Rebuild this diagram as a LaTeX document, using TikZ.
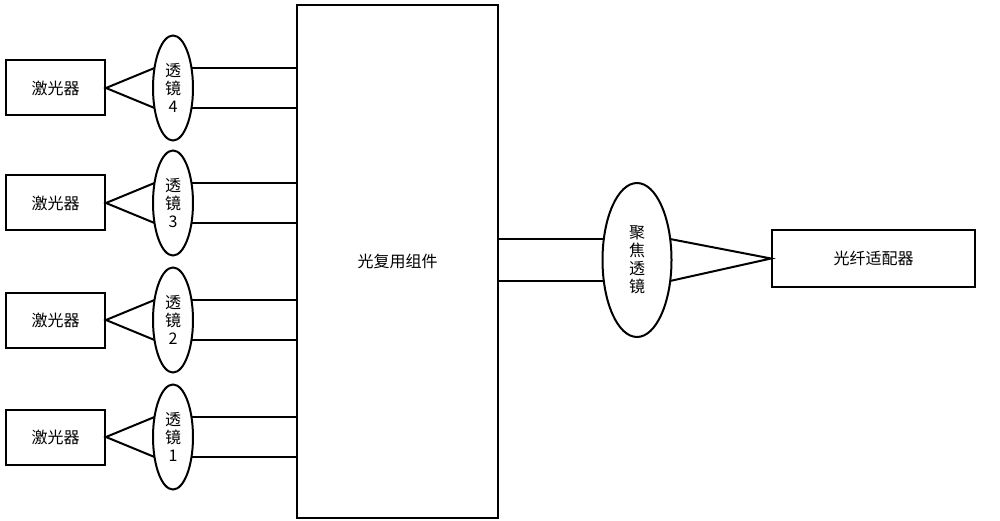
\documentclass[tikz,border=0pt]{standalone}
\usepackage{fontspec}
\newfontfamily\cjk{Noto Sans CJK SC}
\usetikzlibrary{shapes.geometric,calc}
\tikzset{box/.style={draw,line width=2pt,inner sep=0pt,font=\cjk\fontsize{16}{18}\selectfont},
lens/.style={draw,ellipse,line width=2pt,inner sep=0pt,align=center,font=\cjk\fontsize{16}{18}\selectfont},
beam/.style={line width=2pt}}
\begin{document}
\begin{tikzpicture}[x=1pt,y=-1pt]
\useasboundingbox (0,0) rectangle (1000,521);
\node[box,minimum width=201pt,minimum height=513pt] (mux) at (397.5,261.5) {光复用组件};
\foreach \n/\y in {4/88,3/203,2/320,1/437}{
 \node[box,minimum width=99pt,minimum height=55pt] (las\n) at (55.5,\y) {激光器};
 \node[lens,minimum width=40pt,minimum height=105pt] (len\n) at (173,\y) {透\\镜\\\n};
 \coordinate (lt\n) at ($(len\n.center)+(-18.5,-20)$);
 \coordinate (lb\n) at ($(len\n.center)+(-18.5,20)$);
 \coordinate (rt\n) at ($(len\n.center)+(18.5,-20)$);
 \coordinate (rb\n) at ($(len\n.center)+(18.5,20)$);
 \draw[beam] (lt\n) -- (las\n.east) -- (lb\n);
 \draw[beam] (rt\n) -- (rt\n -| mux.west);
 \draw[beam] (rb\n) -- (rb\n -| mux.west);
}
\node[lens,minimum width=69pt,minimum height=154pt] (foc) at (637,260) {聚\\焦\\透\\镜};
\node[box,minimum width=203pt,minimum height=57pt] (ad) at (873.5,258.5) {光纤适配器};
\coordinate (fl1) at ($(foc.center)+(-33,-21)$);
\coordinate (fl2) at ($(foc.center)+(-33,21)$);
\coordinate (fr1) at ($(foc.center)+(33,-21)$);
\coordinate (fr2) at ($(foc.center)+(33,21)$);
\draw[beam] (fl1 -| mux.east) -- (fl1);
\draw[beam] (fl2 -| mux.east) -- (fl2);
\draw[beam] (fr1) -- (ad.west) -- (fr2);
\end{tikzpicture}
\end{document}
